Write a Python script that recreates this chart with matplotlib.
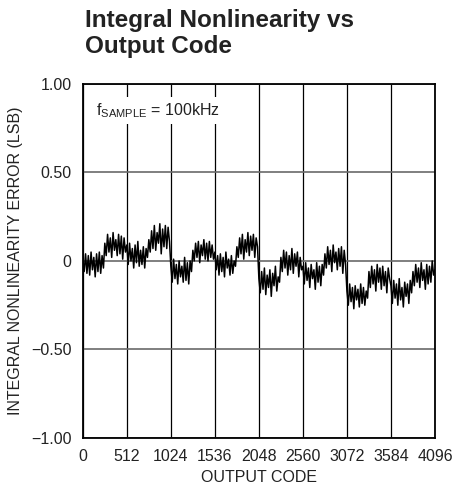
import numpy as np
import matplotlib
matplotlib.use('Agg')
import matplotlib.pyplot as plt

plt.rcParams['font.family'] = ['Liberation Sans', 'DejaVu Sans']
plt.rcParams['mathtext.default'] = 'regular'

CODE_STEP = 16  # codes between samples

# INL (LSB), one list per 512-code segment
seg_0000 = [0.00, -0.06, 0.04, -0.07, 0.03, -0.08, 0.05, -0.05, 0.02, -0.09, 0.04, -0.06, 0.05, -0.07, 0.03, -0.04,
            0.10, 0.03, 0.15, 0.05, 0.13, 0.02, 0.16, 0.06, 0.12, 0.03, 0.15, 0.04, 0.14, 0.01, 0.13, 0.05]
seg_0512 = [0.09, -0.02, 0.10, 0.00, 0.07, -0.04, 0.09, -0.01, 0.11, -0.03, 0.06, -0.02, 0.08, -0.04, 0.07, 0.02,
            0.12, 0.05, 0.17, 0.07, 0.20, 0.06, 0.16, 0.10, 0.21, 0.04, 0.18, 0.08, 0.20, 0.07, 0.19, 0.11]
seg_1024 = [-0.03, -0.12, 0.01, -0.10, -0.02, -0.13, 0.00, -0.09, -0.03, -0.12, 0.02, -0.11, -0.01, -0.13, 0.00, -0.06,
            0.06, 0.00, 0.10, 0.02, 0.11, -0.01, 0.09, 0.03, 0.12, 0.01, 0.10, 0.00, 0.11, 0.02, 0.09, 0.01]
seg_1536 = [0.05, -0.05, 0.03, -0.08, 0.04, -0.06, 0.02, -0.09, 0.05, -0.04, 0.01, -0.08, 0.03, -0.07, 0.00, -0.03,
            0.08, 0.02, 0.13, 0.04, 0.15, 0.01, 0.12, 0.05, 0.16, 0.03, 0.14, 0.06, 0.15, 0.02, 0.13, 0.08]
seg_2048 = [-0.10, -0.18, -0.06, -0.16, -0.04, -0.19, -0.08, -0.15, -0.05, -0.20, -0.07, -0.14, -0.03, -0.17, -0.09, -0.12,
            0.02, -0.06, 0.06, -0.04, 0.05, -0.08, 0.03, -0.05, 0.07, -0.07, 0.04, -0.03, 0.05, -0.09, 0.02, -0.05]
seg_2560 = [-0.03, -0.13, -0.01, -0.11, -0.04, -0.15, -0.02, -0.10, -0.05, -0.16, -0.01, -0.12, -0.03, -0.14, -0.02, -0.08,
            0.04, -0.04, 0.08, -0.02, 0.06, -0.06, 0.09, -0.01, 0.05, -0.05, 0.07, -0.03, 0.08, -0.07, 0.06, -0.02]
seg_3072 = [-0.17, -0.25, -0.13, -0.23, -0.15, -0.27, -0.14, -0.22, -0.16, -0.26, -0.13, -0.24, -0.15, -0.25, -0.17, -0.21,
            -0.06, -0.15, -0.03, -0.13, -0.05, -0.17, -0.02, -0.12, -0.04, -0.16, -0.03, -0.14, -0.06, -0.18, -0.04, -0.10]
seg_3584 = [-0.14, -0.24, -0.11, -0.21, -0.13, -0.25, -0.10, -0.22, -0.15, -0.26, -0.12, -0.20, -0.13, -0.24, -0.11, -0.18,
            -0.06, -0.14, -0.02, -0.12, -0.04, -0.15, -0.01, -0.11, -0.05, -0.16, -0.02, -0.13, -0.03, -0.12, 0.00, -0.08,
            -0.05]

inl = np.array(seg_0000 + seg_0512 + seg_1024 + seg_1536 + seg_2048 + seg_2560 + seg_3072 + seg_3584)
codes = np.arange(len(inl)) * CODE_STEP

x_ticks = [0, 512, 1024, 1536, 2048, 2560, 3072, 3584, 4096]
y_ticks = [-1.0, -0.5, 0.0, 0.5, 1.0]
y_tick_labels = ['\u22121.00', '\u22120.50', '0', '0.50', '1.00']

fig = plt.figure(figsize=(4.55, 4.9), dpi=100)
ax = fig.add_axes([0.182, 0.106, 0.774, 0.723])

ax.plot(codes, inl, color='black', lw=1.1, zorder=3)

ax.set_xlim(0, 4096)
ax.set_ylim(-1, 1)
ax.set_xticks(x_ticks)
ax.set_yticks(y_ticks)
ax.set_yticklabels(y_tick_labels)
ax.tick_params(length=0, labelsize=11.5, pad=8, colors='#222222')
ax.xaxis.grid(True, color='black', lw=0.9)
ax.yaxis.grid(True, color='#6a6a6a', lw=1.2)
ax.set_axisbelow(True)
for s in ax.spines.values():
    s.set_linewidth(1.3)

ax.set_xlabel('OUTPUT CODE', fontsize=11.5, color='#222222', labelpad=4)
ax.set_ylabel('INTEGRAL NONLINEARITY ERROR (LSB)', fontsize=11.5, color='#222222', labelpad=6)

ax.text(0.037, 0.912, r'f$_{SAMPLE}$ = 100kHz', transform=ax.transAxes, fontsize=11.5,
        va='baseline', ha='left', color='#222222', zorder=5,
        bbox=dict(facecolor='white', edgecolor='none', pad=3))

fig.text(0.187, 0.982, 'Integral Nonlinearity vs\nOutput Code', fontsize=17.5, fontweight='bold',
         va='top', ha='left', color='#222222', linespacing=1.15)

fig.savefig('out.png', dpi=100)
